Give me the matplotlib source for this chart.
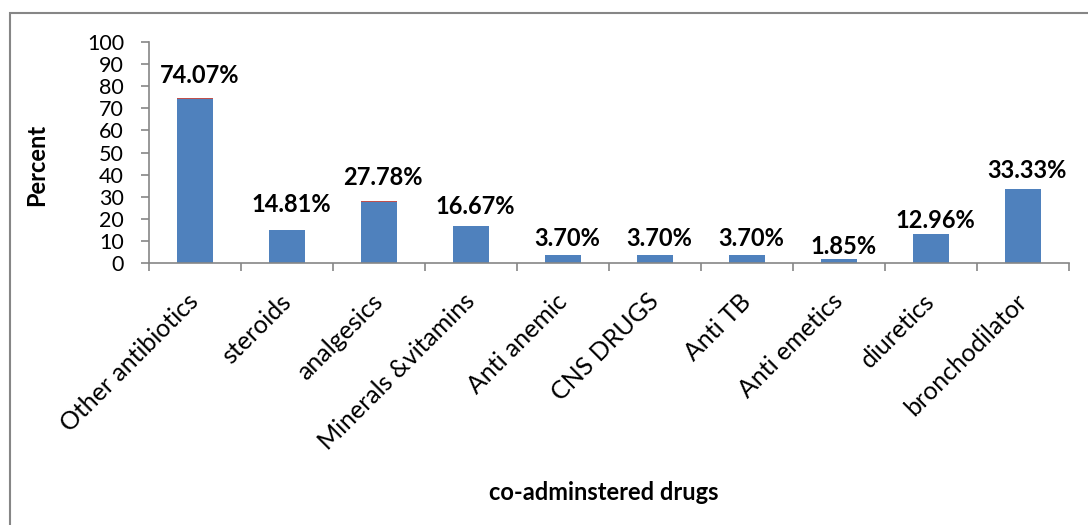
import matplotlib.pyplot as plt
import matplotlib.patches as mpatches
import numpy as np

plt.rcParams['font.family'] = ['Lato', 'DejaVu Sans']

categories = ['Other antibiotics', 'steroids', 'analgesics', 'Minerals &vitamins',
              'Anti anemic', 'CNS DRUGS', 'Anti TB', 'Anti emetics', 'diuretics',
              'bronchodilator']
percent = [74.07, 14.81, 27.78, 16.67, 3.70, 3.70, 3.70, 1.85, 12.96, 33.33]
# second (thin red) series stacked on top, the same values as fractions
fraction = [p / 100 for p in percent]
labels = ['74.07%', '14.81%', '27.78%', '16.67%', '3.70%', '3.70%', '3.70%',
          '1.85%', '12.96%', '33.33%']
# label gap above each bar, in points
label_gap = [16, 18, 17, 14, 12, 12, 12, 9, 10, 13]

grey = '#868686'

fig = plt.figure(figsize=(10.88, 5.25), dpi=100)
ax = fig.add_axes([0.137, 0.499, 0.8455, 0.421])

x = np.arange(len(categories))
ax.bar(x, percent, width=0.4, color='#4F81BD', zorder=2)
ax.bar(x, fraction, bottom=percent, width=0.4, color='#C0504D', zorder=2)

for i, lab in enumerate(labels):
    ax.annotate(lab, (x[i], percent[i] + fraction[i]), xytext=(3, label_gap[i]),
                textcoords='offset points', ha='center', va='center',
                fontsize=17, fontweight='bold')

ax.set_xlim(-0.5, len(categories) - 0.5)
ax.set_ylim(0, 100)
ax.set_yticks(np.arange(0, 101, 10))
ax.set_xticks(x)
ax.set_xticklabels(categories, rotation=45, ha='right', va='center',
                   rotation_mode='anchor', fontsize=18)
ax.set_xticks(np.arange(-0.5, len(categories), 1), minor=True)
ax.tick_params(axis='x', which='major', length=0, pad=25)
ax.tick_params(axis='x', which='minor', length=6, color=grey, width=1.2)
ax.tick_params(axis='y', length=6, color=grey, width=1.2, labelsize=15.5, pad=12)

for s in ['top', 'right']:
    ax.spines[s].set_visible(False)
for s in ['left', 'bottom']:
    ax.spines[s].set_color(grey)
    ax.spines[s].set_linewidth(1.2)

fig.text(0.034, 0.686, 'Percent', rotation=90, ha='center', va='center',
         fontsize=17, fontweight='bold')
fig.text(0.555, 0.061, 'co-adminstered drugs', ha='center', va='center',
         fontsize=17, fontweight='bold')

# chart-area border (runs off the right and bottom edges)
fig.patches.append(mpatches.Rectangle((10 / 1088, -0.1), 1.2, 1.1 - 13 / 525,
                                      transform=fig.transFigure, fill=False,
                                      edgecolor=grey, linewidth=1.5))

fig.savefig('out.png', dpi=100)
